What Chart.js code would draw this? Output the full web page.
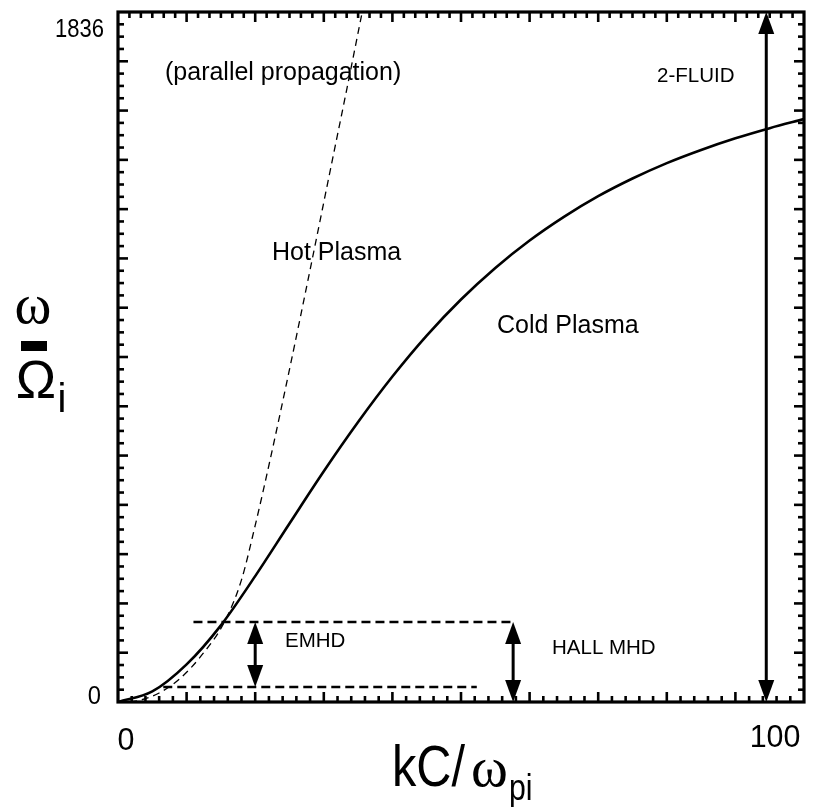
<!DOCTYPE html>
<html>
<head>
<meta charset="utf-8">
<script src="https://cdn.jsdelivr.net/npm/chart.js@4.4.1/dist/chart.umd.min.js"></script>
<style>
  html, body { margin: 0; padding: 0; background: #fff; }
  #wrap { width: 814px; height: 807px; }
</style>
</head>
<body>
<div id="wrap"><canvas id="c" width="814" height="807"></canvas></div>
<script>
// Axis extents and tick labels
const kRange = [0, 100];
const wRange = [0, 1836];
const kTickLabels = ['0', '100'];
const wTickLabels = ['0', '1836'];

// Cold plasma dispersion (solid)
const coldK = [0, 5, 10, 15, 20, 25, 30, 35, 40, 45, 50, 55, 60, 65, 70, 75, 80, 85, 90, 95, 100];
const coldW = [0, 28, 100, 204, 335, 475, 614, 745, 866, 975, 1071, 1155, 1228, 1291, 1346, 1393, 1434, 1469, 1500, 1527, 1551];

// Hot plasma dispersion (thin dashed)
const hotK = [0, 3, 6, 9, 12, 15.6, 18, 20, 22, 25, 28, 31, 33.4, 35.6];
const hotW = [0, 4, 24, 62, 120, 216, 325, 470, 630, 885, 1150, 1420, 1635, 1836];

// Regime boundaries (dashed horizontals): [kStart, kEnd, w]
const emhdTop = [11.0, 57.6, 213];
const emhdBottom = [6.6, 52.3, 40];

// Regime arrows: [k, wFrom, wTo]
const emhdArrow = [20.0, 40, 213];
const hallArrow = [57.6, 0, 213];
const fluidArrow = [94.5, 0, 1836];

const toPts = (ks, ws) => ks.map((k, i) => ({ x: k, y: ws[i] }));

const datasets = [
  {
    data: toPts(coldK, coldW),
    borderColor: '#000', borderWidth: 2.6,
    pointRadius: 0, cubicInterpolationMode: 'monotone', showLine: true
  },
  {
    data: toPts(hotK, hotW),
    borderColor: '#000', borderWidth: 1.3, borderDash: [7, 5],
    pointRadius: 0, cubicInterpolationMode: 'monotone', showLine: true
  },
  {
    data: [{ x: emhdTop[0], y: emhdTop[2] }, { x: emhdTop[1], y: emhdTop[2] }],
    borderColor: '#000', borderWidth: 2.6, borderDash: [9, 5],
    pointRadius: 0, showLine: true
  },
  {
    data: [{ x: emhdBottom[0], y: emhdBottom[2] }, { x: emhdBottom[1], y: emhdBottom[2] }],
    borderColor: '#000', borderWidth: 2.6, borderDash: [9, 5],
    pointRadius: 0, showLine: true
  }
];

const SANS = '"Liberation Sans", Arial, sans-serif';
const SERIF = '"Liberation Serif", "DejaVu Serif", serif';

// Frame, inward tick marks, arrows and text
const decorations = {
  id: 'decorations',
  afterDatasetsDraw(chart) {
    const { ctx, chartArea: a, scales: { x, y } } = chart;
    ctx.save();
    ctx.strokeStyle = '#000';
    ctx.fillStyle = '#000';

    // inward ticks along one edge
    const edgeTicks = (scale, n, every, fixed, dir, horizontal, minorLen, majorLen) => {
      ctx.lineWidth = 2.6;
      const lo = scale.min, hi = scale.max;
      for (let i = 1; i < n; i++) {
        const v = lo + (hi - lo) * i / n;
        const p = scale.getPixelForValue(v);
        const len = (i % every === 0) ? majorLen : minorLen;
        ctx.beginPath();
        if (horizontal) { ctx.moveTo(p, fixed); ctx.lineTo(p, fixed + dir * len); }
        else { ctx.moveTo(fixed, p); ctx.lineTo(fixed + dir * len, p); }
        ctx.stroke();
      }
    };
    edgeTicks(x, 50, 5, a.bottom, -1, true, 6, 10);
    edgeTicks(x, 60, 6, a.top, 1, true, 6, 10);
    edgeTicks(y, 56, 4, a.left, 1, false, 6, 10);
    edgeTicks(y, 56, 4, a.right, -1, false, 6, 10);

    ctx.lineWidth = 3.2;
    ctx.strokeRect(a.left, a.top, a.right - a.left, a.bottom - a.top);

    // double-headed arrows
    const arrow = (spec) => {
      const px = x.getPixelForValue(spec[0]);
      const p1 = y.getPixelForValue(spec[1]);
      const p2 = y.getPixelForValue(spec[2]);
      const head = 22, half = 8;
      ctx.lineWidth = 3;
      ctx.beginPath();
      ctx.moveTo(px, p1 - head + 2);
      ctx.lineTo(px, p2 + head - 2);
      ctx.stroke();
      ctx.beginPath();
      ctx.moveTo(px, p2); ctx.lineTo(px - half, p2 + head); ctx.lineTo(px + half, p2 + head); ctx.closePath();
      ctx.fill();
      ctx.beginPath();
      ctx.moveTo(px, p1); ctx.lineTo(px - half, p1 - head); ctx.lineTo(px + half, p1 - head); ctx.closePath();
      ctx.fill();
    };
    arrow(emhdArrow);
    arrow(hallArrow);
    arrow(fluidArrow);

    // annotations
    ctx.textBaseline = 'middle';
    ctx.textAlign = 'left';
    ctx.font = '25px ' + SANS;
    ctx.fillText('(parallel propagation)', 165, 73);
    ctx.fillText('Hot Plasma', 272, 253);
    ctx.fillText('Cold Plasma', 497, 326);
    ctx.font = '20.5px ' + SANS;
    ctx.fillText('2-FLUID', 657, 76);
    ctx.fillText('EMHD', 285, 641);
    ctx.fillText('HALL MHD', 552, 648);

    // text drawn narrower than its font, as in the axis labelling
    const narrow = (str, px, py, sx, align) => {
      ctx.save();
      ctx.translate(px, py);
      ctx.scale(sx, 1);
      ctx.textAlign = align;
      ctx.fillText(str, 0, 0);
      ctx.restore();
    };

    // tick labels at the axis ends
    ctx.font = '32px ' + SANS;
    narrow(kTickLabels[0], x.getPixelForValue(kRange[0]) + 8, 741, 0.95, 'center');
    narrow(kTickLabels[1], x.getPixelForValue(kRange[1]) - 29, 738, 0.95, 'center');
    ctx.font = '25px ' + SANS;
    narrow(wTickLabels[0], 101, y.getPixelForValue(wRange[0]) - 5, 0.95, 'right');
    narrow(wTickLabels[1], 104, y.getPixelForValue(wRange[1]) + 18, 0.88, 'right');

    // x-axis title: kC/ω_pi
    ctx.textBaseline = 'alphabetic';
    ctx.font = '58px ' + SANS;
    let tx = 392;
    const sx = 0.84;
    narrow('kC/', tx, 786, sx, 'left');
    tx += ctx.measureText('kC/').width * sx + 6;
    ctx.font = '56px ' + SERIF;
    narrow('ω', tx, 786, 1.0, 'left');
    tx += ctx.measureText('ω').width + 1;
    ctx.font = '36px ' + SANS;
    narrow('pi', tx, 800, sx, 'left');

    // y-axis title: ω over Ω_i
    ctx.textAlign = 'center';
    ctx.font = '56px ' + SERIF;
    ctx.fillText('ω', 33, 323);
    ctx.fillRect(21, 341, 26, 10);
    ctx.font = '54px ' + SANS;
    ctx.fillText('Ω', 36, 398);
    ctx.font = '40px ' + SANS;
    ctx.fillText('i', 62, 412);

    ctx.restore();
  }
};

new Chart(document.getElementById('c'), {
  type: 'scatter',
  data: { datasets },
  options: {
    responsive: false,
    animation: false,
    layout: { padding: { left: 118, top: 12, right: 10, bottom: 105 } },
    plugins: { legend: { display: false }, tooltip: { enabled: false } },
    scales: {
      x: { type: 'linear', min: kRange[0], max: kRange[1], display: false },
      y: { type: 'linear', min: wRange[0], max: wRange[1], display: false }
    }
  },
  plugins: [decorations]
});
</script>
</body>
</html>
